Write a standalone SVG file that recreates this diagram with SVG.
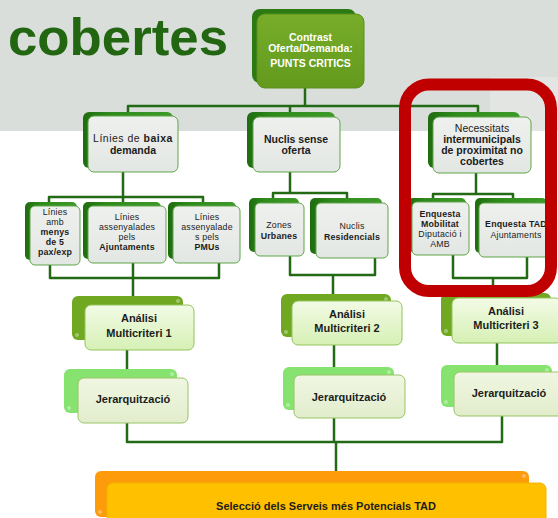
<svg xmlns="http://www.w3.org/2000/svg" width="558" height="518" viewBox="0 0 558 518">
<defs>
<linearGradient id="gTop" x1="0" y1="0" x2="0" y2="1"><stop offset="0" stop-color="#78ad2a"/><stop offset="1" stop-color="#639a1d"/></linearGradient>
<linearGradient id="gSh" x1="0" y1="0" x2="1" y2="0"><stop offset="0" stop-color="#1f6c10"/><stop offset="0.3" stop-color="#2f8a1c"/><stop offset="1" stop-color="#3d9a28"/></linearGradient>
<linearGradient id="gGrey" x1="0" y1="0" x2="0" y2="1"><stop offset="0" stop-color="#eef0ee"/><stop offset="1" stop-color="#e3e7e3"/></linearGradient>
<linearGradient id="gAn" x1="0" y1="0" x2="0" y2="1"><stop offset="0" stop-color="#f2fbe6"/><stop offset="1" stop-color="#d6f0b4"/></linearGradient>
<linearGradient id="gJe" x1="0" y1="0" x2="0" y2="1"><stop offset="0" stop-color="#f0f6e2"/><stop offset="1" stop-color="#e2edcc"/></linearGradient>
</defs>
<style>
text{font-family:"Liberation Sans",Arial,sans-serif;text-anchor:middle;fill:#1c1c1c}
.b{font-weight:bold}
.t2{font-size:10.5px}
.t3{font-size:8.8px;letter-spacing:0.2px}
.ta{font-size:11px;font-weight:bold}
.sh{fill:url(#gSh)}
.fr{fill:url(#gGrey);stroke:#5fa548;stroke-width:1}
.anS{fill:#70a822}
.anF{fill:url(#gAn);stroke:#93c45c;stroke-width:1}
.jeS{fill:#86e36f}
.jeF{fill:url(#gJe);stroke:#98c466;stroke-width:1}
.dot{fill:#ffffff;opacity:0.35}
.con path{fill:none;stroke:#226a14;stroke-width:2.5;stroke-linejoin:round}
</style>
<rect x="0" y="0" width="558" height="518" fill="#ffffff"/>
<rect x="0" y="0" width="558" height="131" fill="#d9dedb"/>
<rect x="490" y="77" width="68" height="54" fill="#e2e5e2"/>
<text x="8" y="55" textLength="220" lengthAdjust="spacingAndGlyphs" style="font-size:52px;font-weight:bold;fill:#236612;text-anchor:start">cobertes</text>

<g class="con">
<path d="M305,88 V106"/>
<path d="M128,112 V106 H478 V112"/>
<path d="M290,106 V112"/>
<path d="M123,172 V202"/>
<path d="M49,202 V197 H203 V202"/>
<path d="M290,172 V193"/>
<path d="M273,198 V193 H347 V198"/>
<path d="M476,173 V194"/>
<path d="M433,199 V194 H513 V199"/>
<path d="M50,265 V278 H219 V263"/>
<path d="M133,263 V296"/>
<path d="M290,256 V275 H375 V258"/>
<path d="M333,275 V294"/>
<path d="M453,255 V278 H527 V257"/>
<path d="M493,278 V293"/>
<path d="M127,350 V370"/>
<path d="M334,345 V367"/>
<path d="M497,343 V365"/>
<path d="M127,423 V442 H502 V416"/>
<path d="M334,418 V442"/>
<path d="M336,442 V471"/>
</g>

<g id="top">
<rect x="252" y="9" width="104" height="74" rx="8" fill="#2b7a14"/>
<rect x="257" y="14" width="107" height="74" rx="8" fill="url(#gTop)" stroke="#5a8f1a"/>
<text x="310.5" y="41" class="b" style="font-size:10.5px;fill:#fff">Contrast</text>
<text x="310.5" y="52" class="b" style="font-size:10.5px;fill:#fff">Oferta/Demanda:</text>
<text x="310.5" y="67" class="b" style="font-size:10.5px;fill:#fff">PUNTS CRITICS</text>
</g>

<g id="linies-baixa">
<rect class="sh" x="83" y="112" width="90" height="56" rx="6"/>
<rect class="fr" x="88" y="116" width="90" height="56" rx="6"/>
<text x="133" y="142" class="t2" style="letter-spacing:0.5px">Línies de <tspan class="b">baixa</tspan></text>
<text x="133" y="154" class="t2 b">demanda</text>
</g>
<g id="nuclis-sense">
<rect class="sh" x="247" y="112" width="88" height="56" rx="6"/>
<rect class="fr" x="253" y="117" width="87" height="55" rx="6"/>
<text x="296" y="143" class="t2 b">Nuclis sense</text>
<text x="296" y="154" class="t2 b">oferta</text>
</g>
<g id="necessitats">
<rect class="sh" x="428" y="112" width="92" height="56" rx="6"/>
<rect class="fr" x="433" y="117" width="98" height="56" rx="6"/>
<text x="482" y="132" class="t2">Necessitats</text>
<text x="482" y="143" class="t2 b">intermunicipals</text>
<text x="482" y="154" class="t2 b">de proximitat no</text>
<text x="482" y="165" class="t2 b">cobertes</text>
</g>

<g id="linies-menys5">
<rect class="sh" x="25" y="202" width="52" height="58" rx="5"/>
<rect class="fr" x="30" y="206" width="50" height="59" rx="5"/>
<text x="55" y="215" class="t3">Línies</text>
<text x="55" y="225" class="t3">amb</text>
<text x="55" y="235" class="t3 b">menys</text>
<text x="55" y="245" class="t3 b">de 5</text>
<text x="55" y="255" class="t3 b">pax/exp</text>
</g>
<g id="linies-ajuntaments">
<rect class="sh" x="83" y="202" width="78" height="57" rx="5"/>
<rect class="fr" x="88" y="206" width="78" height="57" rx="5"/>
<text x="127" y="220" class="t3">Línies</text>
<text x="127" y="230" class="t3">assenyalades</text>
<text x="127" y="240" class="t3">pels</text>
<text x="127" y="250" class="t3 b">Ajuntaments</text>
</g>
<g id="linies-pmus">
<rect class="sh" x="168" y="202" width="68" height="57" rx="5"/>
<rect class="fr" x="173" y="206" width="67" height="57" rx="5"/>
<text x="207" y="220" class="t3">Línies</text>
<text x="207" y="230" class="t3">assenyalade</text>
<text x="207" y="240" class="t3">s pels</text>
<text x="207" y="250" class="t3 b">PMUs</text>
</g>
<g id="zones-urbanes">
<rect class="sh" x="249" y="198" width="50" height="54" rx="5"/>
<rect class="fr" x="255" y="203" width="49" height="53" rx="5"/>
<text x="279" y="228" class="t3">Zones</text>
<text x="279" y="238.5" class="t3 b">Urbanes</text>
</g>
<g id="nuclis-residencials">
<rect class="sh" x="310" y="198" width="72" height="56" rx="5"/>
<rect class="fr" x="316" y="203" width="72" height="55" rx="5"/>
<text x="352" y="229" class="t3">Nuclis</text>
<text x="352" y="239.5" class="t3 b">Residencials</text>
</g>
<g id="enquesta-mobilitat">
<rect class="sh" x="408" y="198" width="58" height="54" rx="5"/>
<rect class="fr" x="412" y="202" width="57" height="53" rx="5"/>
<text x="440" y="217" class="t3 b">Enquesta</text>
<text x="440" y="227" class="t3 b">Mobilitat</text>
<text x="440" y="237" class="t3">Diputació i</text>
<text x="440" y="247" class="t3">AMB</text>
</g>
<g id="enquesta-tad">
<rect class="sh" x="475" y="198" width="72" height="55" rx="5"/>
<rect class="fr" x="479" y="203" width="72" height="54" rx="5"/>
<text x="516" y="227" class="t3 b">Enquesta TAD</text>
<text x="516" y="237.5" class="t3">Ajuntaments</text>
</g>

<g id="analisi-1">
<rect class="anS" x="72" y="296" width="111" height="44" rx="6"/>
<circle class="dot" cx="178" cy="301" r="2"/><circle class="dot" cx="77" cy="335" r="2"/>
<rect class="anF" x="85" y="305" width="109" height="45" rx="6"/>
<text x="139" y="322" class="ta">Análisi</text>
<text x="139" y="337" class="ta">Multicriteri 1</text>
</g>
<g id="analisi-2">
<rect class="anS" x="281" y="294" width="110" height="43" rx="6"/>
<circle class="dot" cx="386" cy="299" r="2"/><circle class="dot" cx="286" cy="332" r="2"/>
<rect class="anF" x="292" y="301" width="110" height="44" rx="6"/>
<text x="347" y="318" class="ta">Análisi</text>
<text x="347" y="332" class="ta">Multicriteri 2</text>
</g>
<g id="analisi-3">
<rect class="anS" x="441" y="293" width="110" height="43" rx="6"/>
<circle class="dot" cx="446" cy="331" r="2"/>
<rect class="anF" x="452" y="298" width="110" height="45" rx="6"/>
<text x="506" y="315" class="ta">Análisi</text>
<text x="506" y="329" class="ta">Multicriteri 3</text>
</g>

<g id="jerarquitzacio-1">
<rect class="jeS" x="64" y="369" width="113" height="44" rx="6"/>
<circle class="dot" cx="172" cy="374" r="2"/><circle class="dot" cx="69" cy="408" r="2"/>
<rect class="jeF" x="78" y="378" width="110" height="45" rx="6"/>
<text x="133" y="403" class="ta">Jerarquització</text>
</g>
<g id="jerarquitzacio-2">
<rect class="jeS" x="283" y="367" width="111" height="43" rx="6"/>
<circle class="dot" cx="389" cy="372" r="2"/><circle class="dot" cx="288" cy="405" r="2"/>
<rect class="jeF" x="294" y="375" width="111" height="43" rx="6"/>
<text x="349" y="401" class="ta">Jerarquització</text>
</g>
<g id="jerarquitzacio-3">
<rect class="jeS" x="441" y="365" width="111" height="42" rx="6"/>
<circle class="dot" cx="547" cy="370" r="2"/><circle class="dot" cx="446" cy="402" r="2"/>
<rect class="jeF" x="454" y="372" width="110" height="44" rx="6"/>
<text x="509" y="397" class="ta">Jerarquització</text>
</g>

<g id="seleccio">
<rect x="95" y="471" width="434" height="46" rx="6" fill="#fd9b0b"/>
<circle class="dot" cx="524" cy="476" r="2"/><circle class="dot" cx="100" cy="512" r="2"/>
<rect x="107" y="483" width="439" height="42" rx="6" fill="#ffc000" stroke="#f0b400"/>
<text x="326" y="510" class="b" style="font-size:11px">Selecció dels Serveis més Potencials TAD</text>
</g>

<rect x="405" y="84.5" width="146" height="206.5" rx="24" fill="none" stroke="#c00000" stroke-width="12"/>
</svg>
